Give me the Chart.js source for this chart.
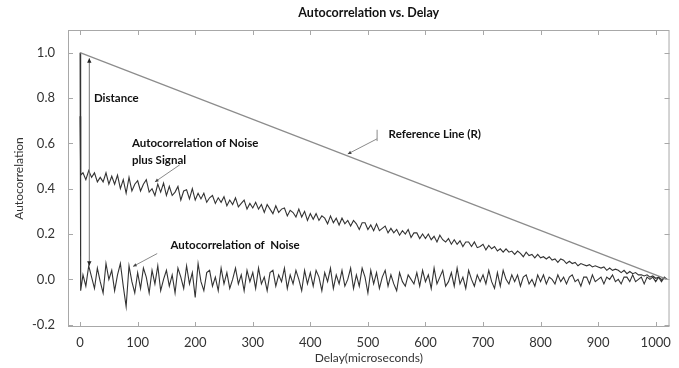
<!DOCTYPE html>
<html>
<head>
<meta charset="utf-8">
<script src="https://cdn.jsdelivr.net/npm/chart.js@4.4.1/dist/chart.umd.min.js"></script>
<style>
  html, body { margin: 0; padding: 0; background: #fff; }
  #wrap { position: relative; width: 679px; height: 368px; }
</style>
</head>
<body>
<div id="wrap"><canvas id="chart" width="679" height="368"></canvas></div>
<script>
// tick labels
const xTicks = [0, 100, 200, 300, 400, 500, 600, 700, 800, 900, 1000];
const yTicks = [-0.2, 0, 0.2, 0.4, 0.6, 0.8, 1.0];

// delay axis: lag 0, lag 1, then every 5 microseconds up to 1020
const delays = [0, 1].concat(Array.from({ length: 204 }, (_, i) => (i + 1) * 5));

// reference line R
const refDelays = [0, 1020];
const refValues = [1.0, 0.0];

// autocorrelation of noise plus signal
const signalValues = [
  0.72, 0.46,
  0.47, 0.44, 0.48, 0.45, 0.47, 0.43, 0.45, 0.43, 0.47, 0.42,
  0.455, 0.42, 0.46, 0.40, 0.44, 0.38, 0.45, 0.39, 0.42, 0.435,
  0.39, 0.42, 0.44, 0.385, 0.40, 0.37, 0.42, 0.385, 0.425, 0.37,
  0.41, 0.37, 0.385, 0.41, 0.35, 0.39, 0.395, 0.355, 0.40, 0.35,
  0.38, 0.355, 0.38, 0.34, 0.36, 0.37, 0.335, 0.36, 0.34, 0.365,
  0.325, 0.35, 0.33, 0.36, 0.32, 0.335, 0.35, 0.31, 0.335, 0.315,
  0.34, 0.31, 0.33, 0.295, 0.33, 0.31, 0.29, 0.325, 0.295, 0.31,
  0.315, 0.28, 0.305, 0.295, 0.275, 0.31, 0.275, 0.30, 0.26, 0.29,
  0.265, 0.29, 0.26, 0.28, 0.27, 0.245, 0.28, 0.25, 0.27, 0.24,
  0.27, 0.245, 0.26, 0.235, 0.26, 0.245, 0.22, 0.25, 0.25, 0.22,
  0.24, 0.215, 0.245, 0.215, 0.225, 0.235, 0.205, 0.225, 0.205, 0.22,
  0.195, 0.215, 0.20, 0.22, 0.185, 0.205, 0.205, 0.18, 0.20, 0.18,
  0.20, 0.175, 0.19, 0.165, 0.195, 0.175, 0.165, 0.18, 0.155, 0.175,
  0.155, 0.17, 0.145, 0.165, 0.165, 0.145, 0.165, 0.14, 0.145, 0.155,
  0.13, 0.15, 0.135, 0.145, 0.125, 0.135, 0.12, 0.135, 0.12, 0.125,
  0.11, 0.125, 0.115, 0.10, 0.12, 0.105, 0.11, 0.095, 0.11, 0.095,
  0.10, 0.09, 0.10, 0.085, 0.09, 0.075, 0.09, 0.085, 0.07, 0.08,
  0.07, 0.075, 0.06, 0.07, 0.065, 0.06, 0.065, 0.055, 0.06, 0.055,
  0.05, 0.055, 0.04, 0.05, 0.04, 0.045, 0.04, 0.03, 0.04, 0.025,
  0.035, 0.025, 0.03, 0.02, 0.02, 0.015, 0.02, 0.01, 0.015, 0.005,
  0.01, 0.0, 0.005, 0.0
];

// autocorrelation of noise alone
const noiseValues = [
  1.0, -0.05,
  0.02, -0.03, 0.06, 0.01, -0.04, 0.05, -0.01, -0.06, 0.07, 0.00,
  0.04, -0.05, 0.02, 0.07, -0.03, -0.12, 0.06, -0.01, -0.06, 0.03,
  -0.04, 0.05, 0.01, -0.06, 0.04, -0.02, 0.06, -0.05, 0.00, 0.04,
  -0.03, 0.02, -0.06, 0.05, 0.01, -0.04, 0.06, -0.02, 0.03, -0.08,
  0.07, -0.01, -0.05, 0.03, 0.04, -0.03, 0.01, -0.05, 0.05, -0.02,
  0.03, -0.04, 0.00, 0.05, -0.02, 0.02, -0.05, 0.04, -0.01, 0.03,
  -0.04, 0.05, -0.02, 0.01, -0.05, 0.03, 0.04, -0.03, 0.02, -0.01,
  0.05, -0.04, 0.02, -0.02, 0.04, 0.00, -0.05, 0.04, -0.02, 0.03,
  -0.03, 0.04, 0.01, -0.05, 0.03, -0.01, 0.05, -0.04, 0.02, -0.02,
  0.04, -0.03, 0.00, 0.05, -0.04, 0.02, -0.03, 0.05, 0.01, -0.06,
  0.04, -0.02, 0.03, -0.04, 0.01, 0.04, -0.03, 0.02, -0.02, -0.05,
  0.03, -0.01, -0.03, 0.02, 0.00, -0.02, 0.03, -0.03, 0.04, -0.01,
  0.02, -0.04, 0.05, -0.02, 0.01, 0.04, -0.03, -0.01, 0.03, -0.03,
  0.05, -0.02, 0.01, -0.04, 0.04, 0.00, -0.03, 0.02, -0.01, 0.02,
  -0.02, 0.04, -0.01, -0.04, 0.03, -0.03, 0.04, 0.00, -0.02, 0.02,
  -0.01, 0.02, -0.03, 0.01, 0.02, -0.02, 0.00, -0.03, 0.02, -0.01,
  0.02, -0.02, 0.01, 0.00, -0.02, 0.02, -0.01, 0.01, -0.02, 0.01,
  0.02, -0.01, 0.00, -0.03, 0.01, 0.01, -0.02, 0.02, -0.01, 0.00,
  0.01, -0.02, 0.01, 0.00, 0.02, -0.01, 0.00, -0.02, 0.01, 0.01,
  -0.01, 0.02, -0.01, 0.00, 0.01, -0.02, 0.01, 0.00, 0.01, -0.01,
  0.01, -0.01, 0.01, 0.00
];

const FONT = "Lato, 'Open Sans', sans-serif";

function toPoints(xs, ys) {
  return xs.map((x, i) => ({ x: x, y: ys[i] }));
}

function arrow(ctx, x1, y1, x2, y2, head) {
  ctx.beginPath();
  ctx.moveTo(x1, y1);
  ctx.lineTo(x2, y2);
  ctx.stroke();
  const ang = Math.atan2(y2 - y1, x2 - x1);
  ctx.beginPath();
  ctx.moveTo(x2, y2);
  ctx.lineTo(x2 - head * Math.cos(ang - 0.45), y2 - head * Math.sin(ang - 0.45));
  ctx.lineTo(x2 - head * Math.cos(ang + 0.45), y2 - head * Math.sin(ang + 0.45));
  ctx.closePath();
  ctx.fill();
}

// frame with inward tick marks on all four sides
const framePlugin = {
  id: 'frame',
  afterDatasetsDraw(chart) {
    const { ctx, chartArea: a, scales: { x, y } } = chart;
    ctx.save();
    ctx.strokeStyle = '#a8a8a8';
    ctx.lineWidth = 1;
    ctx.strokeRect(a.left + 0.5, a.top + 0.5, a.right - a.left - 1, a.bottom - a.top - 1);
    ctx.beginPath();
    xTicks.forEach(v => {
      const px = Math.round(x.getPixelForValue(v)) + 0.5;
      ctx.moveTo(px, a.top); ctx.lineTo(px, a.top + 5);
      ctx.moveTo(px, a.bottom); ctx.lineTo(px, a.bottom - 5);
    });
    yTicks.forEach(v => {
      const py = Math.round(y.getPixelForValue(v)) + 0.5;
      ctx.moveTo(a.left, py); ctx.lineTo(a.left + 5, py);
      ctx.moveTo(a.right, py); ctx.lineTo(a.right - 5, py);
    });
    ctx.stroke();
    ctx.restore();
  }
};

// text labels and arrows inside the plot
const notesPlugin = {
  id: 'notes',
  afterDraw(chart) {
    const { ctx, scales: { x, y } } = chart;
    const px = v => x.getPixelForValue(v);
    const py = v => y.getPixelForValue(v);
    ctx.save();

    // Distance double arrow
    ctx.strokeStyle = '#777';
    ctx.fillStyle = '#222';
    ctx.lineWidth = 1;
    arrow(ctx, px(16), py(0.5), px(16), py(0.975), 5);
    arrow(ctx, px(16), py(0.5), px(16), py(0.06), 5);

    // pointer arrows
    ctx.strokeStyle = '#8a8a8a';
    ctx.fillStyle = '#444';
    arrow(ctx, px(173), py(0.505), px(130), py(0.43), 4);
    arrow(ctx, px(516), py(0.62), px(465), py(0.553), 4);
    arrow(ctx, px(134), py(0.114), px(92), py(0.057), 4);
    ctx.beginPath();
    ctx.moveTo(px(516), py(0.66));
    ctx.lineTo(px(516), py(0.61));
    ctx.stroke();

    ctx.fillStyle = '#111';
    ctx.font = 'bold 11.5px ' + FONT;
    ctx.textBaseline = 'middle';
    ctx.textAlign = 'left';
    ctx.fillText('Distance', px(24), py(0.80));
    ctx.fillText('Autocorrelation of Noise', px(90), py(0.60));
    ctx.fillText('plus Signal', px(90), py(0.527));
    ctx.fillText('Reference Line (R)', px(536), py(0.642));
    ctx.fillText('Autocorrelation of  Noise', px(157), py(0.149));
    ctx.restore();
  }
};

new Chart(document.getElementById('chart'), {
  type: 'line',
  data: {
    datasets: [
      {
        label: 'Reference Line (R)',
        data: toPoints(refDelays, refValues),
        borderColor: '#8c8c8c',
        borderWidth: 1.2,
        pointRadius: 0
      },
      {
        label: 'Autocorrelation of Noise plus Signal',
        data: toPoints(delays, signalValues),
        borderColor: '#333',
        borderWidth: 1.1,
        pointRadius: 0
      },
      {
        label: 'Autocorrelation of Noise',
        data: toPoints(delays, noiseValues),
        borderColor: '#333',
        borderWidth: 1.1,
        pointRadius: 0
      }
    ]
  },
  options: {
    responsive: false,
    animation: false,
    layout: { padding: { left: 0, right: 7, top: 0, bottom: 0 } },
    plugins: {
      legend: { display: false },
      tooltip: { enabled: false },
      title: {
        display: true,
        text: 'Autocorrelation vs. Delay',
        fullSize: false,
        color: '#111',
        font: { family: FONT, size: 12.5, weight: 'bold' },
        padding: { top: 5.5, bottom: 9.5 }
      }
    },
    scales: {
      x: {
        type: 'linear',
        min: -21,
        max: 1024,
        afterFit: s => { s.height = 41; },
        afterBuildTicks: s => { s.ticks = xTicks.map(v => ({ value: v })); },
        grid: { display: false, drawTicks: false },
        border: { display: false },
        ticks: {
          color: '#333',
          padding: 8,
          maxRotation: 0,
          font: { family: FONT, size: 13 },
          callback: v => String(v)
        },
        title: {
          display: true,
          text: 'Delay(microseconds)',
          color: '#333',
          font: { family: FONT, size: 12 },
          padding: { top: 0, bottom: 3 }
        }
      },
      y: {
        min: -0.21,
        max: 1.1,
        afterFit: s => { s.width = 68; },
        afterBuildTicks: s => { s.ticks = yTicks.map(v => ({ value: v })); },
        grid: { display: false, drawTicks: false },
        border: { display: false },
        ticks: {
          color: '#333',
          padding: 13,
          font: { family: FONT, size: 13 },
          callback: v => Number(v).toFixed(1)
        },
        title: {
          display: true,
          text: 'Autocorrelation',
          color: '#333',
          font: { family: FONT, size: 12 },
          padding: { top: 12, bottom: 0 }
        }
      }
    }
  },
  plugins: [framePlugin, notesPlugin]
});
</script>
</body>
</html>
